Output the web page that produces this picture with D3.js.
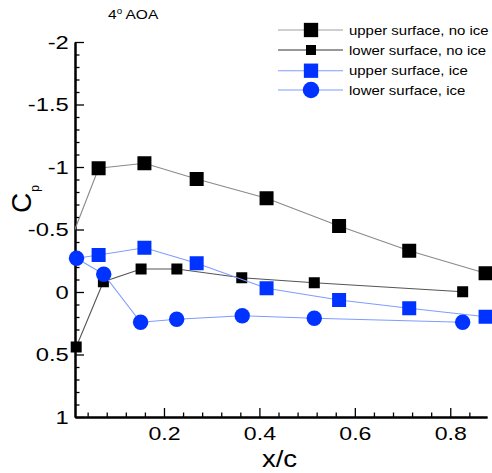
<!DOCTYPE html>
<html>
<head>
<meta charset="utf-8">
<script src="https://cdn.jsdelivr.net/npm/d3@7"></script>
<style>
  html, body { margin: 0; padding: 0; background: #fff; }
  svg { display: block; font-family: "Liberation Sans", Arial, Helvetica, sans-serif; }
</style>
</head>
<body>
<svg id="chart" width="492" height="473"></svg>
<script>
// ---- data (x/c, Cp) ----
const upperNoIceX  = [0.000, 0.063, 0.159, 0.2685, 0.415, 0.567, 0.714, 0.874];
const upperNoIceCp = [-0.37, -0.99, -1.03, -0.904, -0.75, -0.528, -0.33, -0.15];

const lowerNoIceX  = [0.016, 0.073, 0.152, 0.227, 0.363, 0.515, 0.826];
const lowerNoIceCp = [0.44, -0.082, -0.184, -0.184, -0.114, -0.074, -0.002];

const upperIceX    = [0.063, 0.159, 0.2685, 0.415, 0.567, 0.714, 0.874];
const upperIceCp   = [-0.296, -0.354, -0.23, -0.03, 0.064, 0.13, 0.198];

const lowerIceX    = [0.0167, 0.0737, 0.151, 0.2266, 0.364, 0.515, 0.826];
const lowerIceCp   = [-0.27, -0.142, 0.242, 0.218, 0.19, 0.21, 0.242];

const legendLabels = ["upper surface, no ice", "lower surface, no ice", "upper surface, ice", "lower surface, ice"];
const yTickValues  = [-2, -1.5, -1, -0.5, 0, 0.5, 1];
const yTickLabels  = ["-2", "-1.5", "-1", "-0.5", "0", "0.5", "1"];
const xTickValues  = [0.2, 0.4, 0.6, 0.8];
const xTickLabels  = ["0.2", "0.4", "0.6", "0.8"];
const titleMain = "4", titleSup = "o", titleRest = " AOA";
const xTitle = "x/c";

// ---- layout ----
const svg = d3.select("#chart");
const X0 = 75, X1 = 487, Y0 = 42, Y1 = 417;
const SX = 1.15;  // horizontal text stretch seen in the reference
const SXA = 1.25; // stretch for tick labels

const x = d3.scaleLinear().domain([0.0135, 0.877]).range([X0, X1]);
const y = d3.scaleLinear().domain([-2, 1]).range([Y0, Y1]);

const zip = (xs, ys) => xs.map((v, i) => ({x: v, y: ys[i]}));
const upperNoIce = zip(upperNoIceX, upperNoIceCp);
const lowerNoIce = zip(lowerNoIceX, lowerNoIceCp);
const upperIce = zip(upperIceX, upperIceCp);
const lowerIce = zip(lowerIceX, lowerIceCp);

svg.append("defs").append("clipPath").attr("id", "plotclip")
  .append("rect").attr("x", X0).attr("y", 0).attr("width", 492 - X0).attr("height", 473);

// ---- axes ----
const yMinor = d3.range(-20, 11).map(d => d / 10).filter(d => !yTickValues.some(t => Math.abs(t - d) < 1e-9));
const xMinor = d3.range(1, 22).map(d => d * 0.04).filter(d => !xTickValues.some(t => Math.abs(t - d) < 1e-9));

const yAxisMinor = d3.axisLeft(y).tickValues(yMinor).tickSizeInner(-4.5).tickSizeOuter(0).tickFormat("");
const yAxis = d3.axisLeft(y).tickValues(yTickValues).tickSizeInner(-9).tickSizeOuter(0).tickPadding(5)
  .tickFormat((d, i) => yTickLabels[i]);
const xAxisMinor = d3.axisBottom(x).tickValues(xMinor).tickSizeInner(-4.5).tickSizeOuter(0).tickFormat("");
const xAxis = d3.axisBottom(x).tickValues(xTickValues).tickSizeInner(-9).tickSizeOuter(0).tickPadding(10)
  .tickFormat((d, i) => xTickLabels[i]);

function styleAxis(g) {
  g.select(".domain").attr("stroke", "#000").attr("stroke-width", 2);
  g.selectAll(".tick line").attr("stroke", "#000").attr("stroke-width", 1.3);
  g.selectAll(".tick text").attr("fill", "#000").attr("font-family", "Liberation Sans, Arial, sans-serif");
}

svg.append("g").attr("transform", `translate(${X0},0)`).call(yAxisMinor).call(styleAxis);
svg.append("g").attr("transform", `translate(${X0},0)`).call(yAxis).call(styleAxis)
  .selectAll(".tick text").attr("font-size", 19).attr("transform", `scale(${SXA},1)`);
svg.append("g").attr("transform", `translate(0,${Y1})`).call(xAxisMinor).call(styleAxis);
svg.append("g").attr("transform", `translate(0,${Y1})`).call(xAxis).call(styleAxis)
  .selectAll(".tick text").attr("font-size", 18.5).attr("transform", `scale(${SXA},1)`);

// ---- series ----
const line = d3.line().x(d => x(d.x)).y(d => y(d.y));
const BLUE = "#0033ff", BLUE_LINE = "#7f9cff";

const series = [
  {pts: upperNoIce, linePts: upperNoIce, lineColor: "#8a8a8a", fill: "#000", shape: "square", size: 14},
  {pts: lowerNoIce, linePts: lowerNoIce, lineColor: "#555555", fill: "#000", shape: "square", size: 11},
  {pts: upperIce, linePts: [lowerIce[0]].concat(upperIce), lineColor: BLUE_LINE, fill: BLUE, shape: "square", size: 14},
  {pts: lowerIce, linePts: lowerIce, lineColor: BLUE_LINE, fill: BLUE, shape: "circle", size: 15.4}
];

function drawMarker(g, shape, size, fill, cx, cy) {
  if (shape === "square") {
    g.append("rect").attr("x", cx - size / 2).attr("y", cy - size / 2)
      .attr("width", size).attr("height", size).attr("fill", fill);
  } else {
    g.append("circle").attr("cx", cx).attr("cy", cy).attr("r", size / 2).attr("fill", fill);
  }
}

series.forEach(s => {
  const g = svg.append("g");
  g.append("path").datum(s.linePts).attr("d", line).attr("fill", "none")
    .attr("stroke", s.lineColor).attr("stroke-width", 1.1).attr("clip-path", "url(#plotclip)");
  s.pts.filter(d => d.x >= x.domain()[0]).forEach(d => drawMarker(g, s.shape, s.size, s.fill, x(d.x), y(d.y)));
});

// ---- legend ----
const legendRowY = [30, 50, 70.7, 90];
const leg = svg.append("g");
series.forEach((s, i) => {
  const ly = legendRowY[i];
  const lc = i === 0 ? "#a0a0a0" : (i === 1 ? "#333333" : BLUE_LINE);
  leg.append("line").attr("x1", 278).attr("x2", 343).attr("y1", ly).attr("y2", ly)
    .attr("stroke", lc).attr("stroke-width", 1.1);
  const lsize = i === 1 ? 10 : (s.shape === "circle" ? 16.5 : 14.3);
  drawMarker(leg, s.shape, lsize, s.fill, 311, ly);
  leg.append("text").attr("transform", `translate(349,${ly}) scale(${SX},1)`)
    .attr("dy", "0.35em").attr("font-size", 13).attr("fill", "#000").text(legendLabels[i]);
});

// ---- titles ----
const t = svg.append("text").attr("transform", `translate(108,19) scale(${SX},1)`)
  .attr("font-size", 13.5).attr("fill", "#000");
t.append("tspan").text(titleMain);
t.append("tspan").attr("font-size", 8.5).attr("dy", -5.5).text(titleSup);
t.append("tspan").attr("dy", 5.5).text(titleRest);

svg.append("text").attr("transform", `translate(279.5,467) scale(1.2,1)`)
  .attr("text-anchor", "middle").attr("font-size", 23).attr("fill", "#000").text(xTitle);

const cp = svg.append("text").attr("transform", "translate(30.5,213) rotate(-90)")
  .attr("font-size", 28).attr("fill", "#000");
cp.append("tspan").text("C");
cp.append("tspan").attr("font-size", 12).attr("dy", 8).attr("dx", 1).text("p");
</script>
</body>
</html>
